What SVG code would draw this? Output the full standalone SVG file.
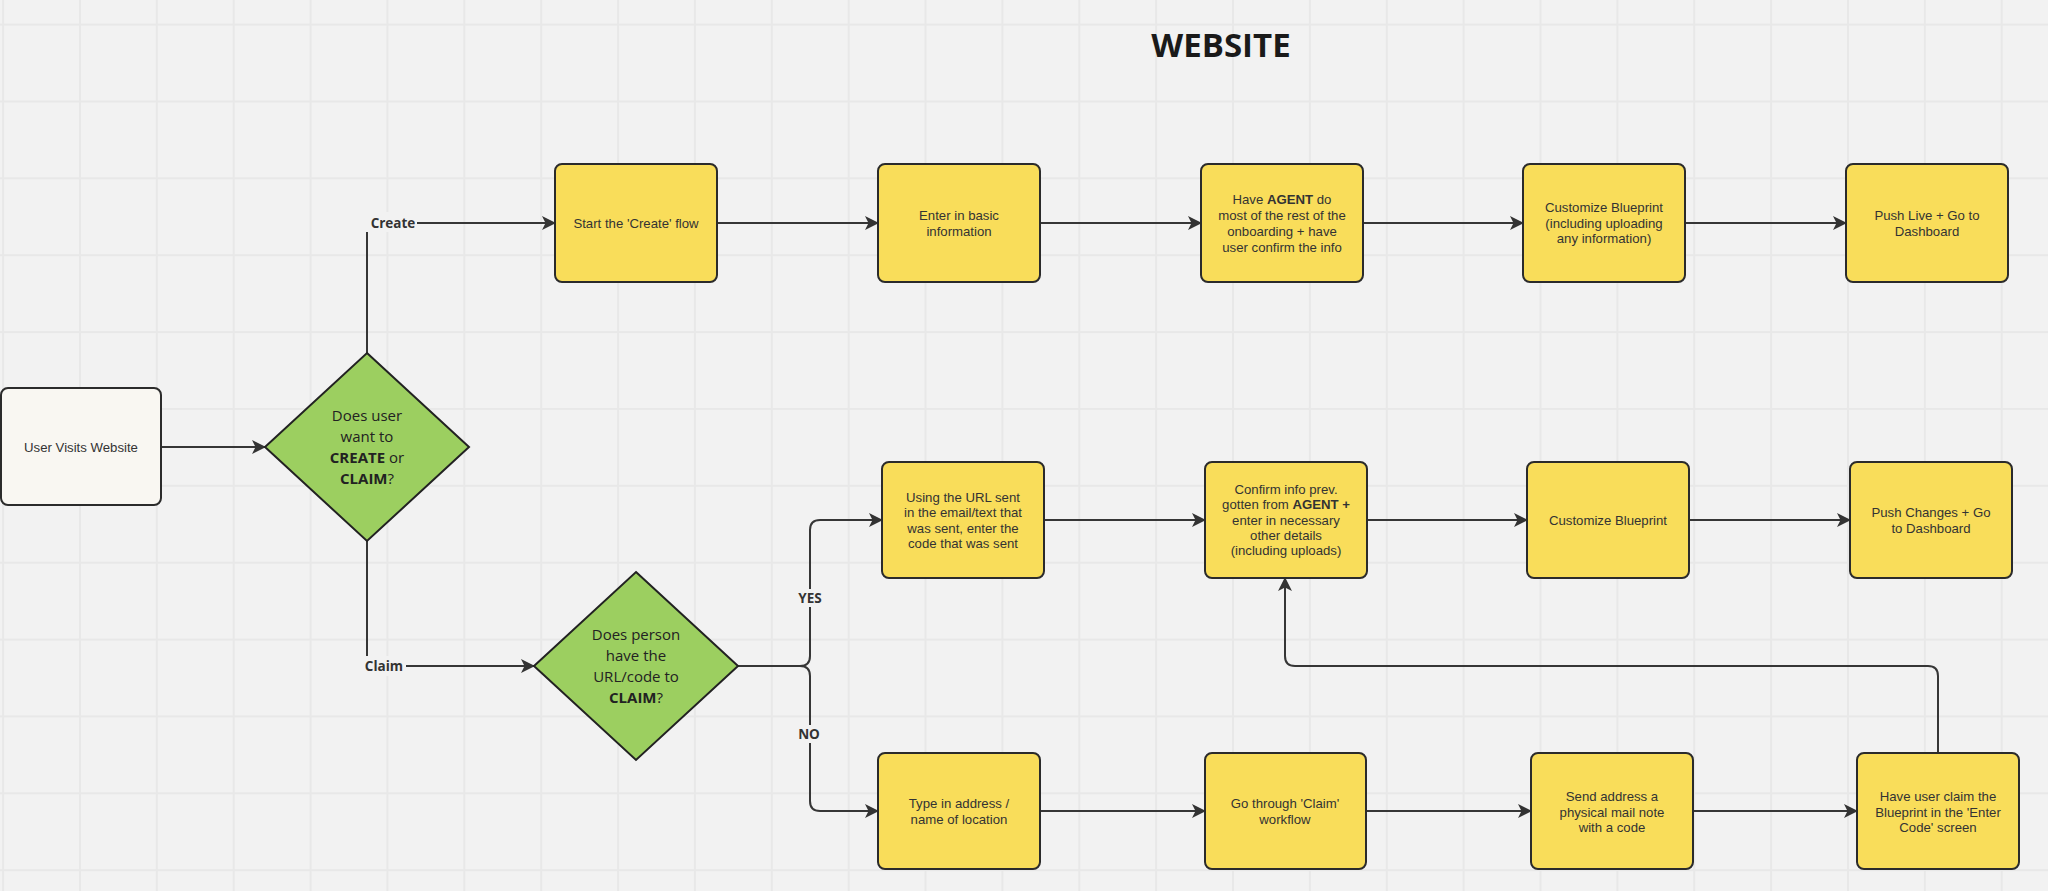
<svg xmlns="http://www.w3.org/2000/svg" width="2048" height="891" viewBox="0 0 2048 891">
  <defs>
    <pattern id="grid" patternUnits="userSpaceOnUse" x="2.1" y="23.6" width="76.87" height="76.87">
      <rect x="0" y="0" width="2" height="76.87" fill="#e8e8e8"/>
      <rect x="0" y="0" width="76.87" height="2" fill="#e8e8e8"/>
    </pattern>
    <marker id="arrow" viewBox="0 0 14 14" refX="13" refY="7" markerWidth="14" markerHeight="14" markerUnits="userSpaceOnUse" orient="auto">
      <path d="M0,0 L14,7 L0,14 L3.5,7 z" fill="#333333"/>
    </marker>
    <style>
      .box { fill: #f9dd5a; stroke: #2b2b2b; stroke-width: 2; }
      .start { fill: #f9f7f2; stroke: #2b2b2b; stroke-width: 2; }
      .dia { fill: #9ccf60; stroke: #222222; stroke-width: 2; }
      .t { font-family: "Liberation Sans", Arial, sans-serif; font-size: 13.2px; fill: #333333; text-anchor: middle; }
      .dt { font-family: "Open Sans", "Noto Sans", sans-serif; font-size: 15px; fill: #222222; text-anchor: middle; }
      .lbl { font-family: "Open Sans", "Noto Sans", sans-serif; font-size: 13.5px; font-weight: bold; fill: #333333; text-anchor: middle; }
      .b { font-weight: bold; }
      .conn { fill: none; stroke: #363636; stroke-width: 2; }
      .lblbg { fill: #f2f2f2; }
    </style>
  </defs>

  <!-- canvas -->
  <rect width="2048" height="891" fill="#f2f2f2"/>
  <rect width="2048" height="891" fill="url(#grid)"/>

  <text x="1221" y="57" font-family="'Open Sans', 'Noto Sans', sans-serif" font-size="33" font-weight="bold" fill="#1a1a1a" text-anchor="middle">WEBSITE</text>

  <!-- connectors -->
  <g id="connectors">
    <path class="conn" d="M161,447 H265" marker-end="url(#arrow)"/>
    <path class="conn" d="M367,353 V223 H555" marker-end="url(#arrow)"/>
    <path class="conn" d="M367,541 V666 H534" marker-end="url(#arrow)"/>

    <path class="conn" d="M717,223 H878" marker-end="url(#arrow)"/>
    <path class="conn" d="M1040,223 H1201" marker-end="url(#arrow)"/>
    <path class="conn" d="M1363,223 H1523" marker-end="url(#arrow)"/>
    <path class="conn" d="M1685,223 H1846" marker-end="url(#arrow)"/>

    <path class="conn" d="M738,666 H800 Q810,666 810,656 V530 Q810,520 820,520 H882" marker-end="url(#arrow)"/>
    <path class="conn" d="M738,666 H800 Q810,666 810,676 V801 Q810,811 820,811 H878" marker-end="url(#arrow)"/>

    <path class="conn" d="M1044,520 H1205" marker-end="url(#arrow)"/>
    <path class="conn" d="M1367,520 H1527" marker-end="url(#arrow)"/>
    <path class="conn" d="M1689,520 H1850" marker-end="url(#arrow)"/>

    <path class="conn" d="M1040,811 H1205" marker-end="url(#arrow)"/>
    <path class="conn" d="M1366,811 H1531" marker-end="url(#arrow)"/>
    <path class="conn" d="M1693,811 H1857" marker-end="url(#arrow)"/>

    <path class="conn" d="M1938,753 V676 Q1938,666 1928,666 H1295 Q1285,666 1285,656 V578" marker-end="url(#arrow)"/>

    <!-- connector labels -->
    <rect class="lblbg" x="362" y="212" width="55" height="20"/>
    <text class="lbl" x="393" y="228">Create</text>
    <rect class="lblbg" x="360" y="656" width="46" height="20"/>
    <text class="lbl" x="384" y="671">Claim</text>
    <rect class="lblbg" x="796" y="589" width="28" height="18"/>
    <text class="lbl" x="810" y="603">YES</text>
    <rect class="lblbg" x="797" y="725" width="24" height="18"/>
    <text class="lbl" x="809" y="739">NO</text>
  </g>

  <!-- nodes -->
  <g id="user-visits">
    <rect class="start" x="1" y="388" width="160" height="117" rx="7"/>
    <text class="t" x="81" y="452">User Visits Website</text>
  </g>

  <g id="decision-create-claim">
    <polygon class="dia" points="367,353 469,447 367,541 265,447"/>
    <text class="dt" x="367" y="421">Does user</text>
    <text class="dt" x="367" y="442">want to</text>
    <text class="dt" x="367" y="463"><tspan class="b">CREATE</tspan> or</text>
    <text class="dt" x="367" y="484"><tspan class="b">CLAIM</tspan>?</text>
  </g>

  <g id="decision-has-code">
    <polygon class="dia" points="636,572 738,666 636,760 534,666"/>
    <text class="dt" x="636" y="640">Does person</text>
    <text class="dt" x="636" y="661">have the</text>
    <text class="dt" x="636" y="682">URL/code to</text>
    <text class="dt" x="636" y="703"><tspan class="b">CLAIM</tspan>?</text>
  </g>

  <!-- create flow -->
  <g id="start-create">
    <rect class="box" x="555" y="164" width="162" height="118" rx="7"/>
    <text class="t" x="636" y="228">Start the 'Create' flow</text>
  </g>
  <g id="enter-basic">
    <rect class="box" x="878" y="164" width="162" height="118" rx="7"/>
    <text class="t" x="959" y="220">Enter in basic</text>
    <text class="t" x="959" y="236">information</text>
  </g>
  <g id="agent-onboarding">
    <rect class="box" x="1201" y="164" width="162" height="118" rx="7"/>
    <text class="t" x="1282" y="204">Have <tspan class="b">AGENT</tspan> do</text>
    <text class="t" x="1282" y="220">most of the rest of the</text>
    <text class="t" x="1282" y="236">onboarding + have</text>
    <text class="t" x="1282" y="252">user confirm the info</text>
  </g>
  <g id="customize-create">
    <rect class="box" x="1523" y="164" width="162" height="118" rx="7"/>
    <text class="t" x="1604" y="212">Customize Blueprint</text>
    <text class="t" x="1604" y="228">(including uploading</text>
    <text class="t" x="1604" y="243">any information)</text>
  </g>
  <g id="push-live">
    <rect class="box" x="1846" y="164" width="162" height="118" rx="7"/>
    <text class="t" x="1927" y="220">Push Live + Go to</text>
    <text class="t" x="1927" y="236">Dashboard</text>
  </g>

  <!-- claim flow, code available -->
  <g id="use-url">
    <rect class="box" x="882" y="462" width="162" height="116" rx="7"/>
    <text class="t" x="963" y="502">Using the URL sent</text>
    <text class="t" x="963" y="517">in the email/text that</text>
    <text class="t" x="963" y="533">was sent, enter the</text>
    <text class="t" x="963" y="548">code that was sent</text>
  </g>
  <g id="confirm-info">
    <rect class="box" x="1205" y="462" width="162" height="116" rx="7"/>
    <text class="t" x="1286" y="494">Confirm info prev.</text>
    <text class="t" x="1286" y="509">gotten from <tspan class="b">AGENT +</tspan></text>
    <text class="t" x="1286" y="525">enter in necessary</text>
    <text class="t" x="1286" y="540">other details</text>
    <text class="t" x="1286" y="555">(including uploads)</text>
  </g>
  <g id="customize-claim">
    <rect class="box" x="1527" y="462" width="162" height="116" rx="7"/>
    <text class="t" x="1608" y="525">Customize Blueprint</text>
  </g>
  <g id="push-changes">
    <rect class="box" x="1850" y="462" width="162" height="116" rx="7"/>
    <text class="t" x="1931" y="517">Push Changes + Go</text>
    <text class="t" x="1931" y="533">to Dashboard</text>
  </g>

  <!-- claim flow, no code -->
  <g id="type-address">
    <rect class="box" x="878" y="753" width="162" height="116" rx="7"/>
    <text class="t" x="959" y="808">Type in address /</text>
    <text class="t" x="959" y="824">name of location</text>
  </g>
  <g id="claim-workflow">
    <rect class="box" x="1205" y="753" width="161" height="116" rx="7"/>
    <text class="t" x="1285" y="808">Go through 'Claim'</text>
    <text class="t" x="1285" y="824">workflow</text>
  </g>
  <g id="send-mail">
    <rect class="box" x="1531" y="753" width="162" height="116" rx="7"/>
    <text class="t" x="1612" y="801">Send address a</text>
    <text class="t" x="1612" y="817">physical mail note</text>
    <text class="t" x="1612" y="832">with a code</text>
  </g>
  <g id="enter-code">
    <rect class="box" x="1857" y="753" width="162" height="116" rx="7"/>
    <text class="t" x="1938" y="801">Have user claim the</text>
    <text class="t" x="1938" y="817">Blueprint in the 'Enter</text>
    <text class="t" x="1938" y="832">Code' screen</text>
  </g>
</svg>
